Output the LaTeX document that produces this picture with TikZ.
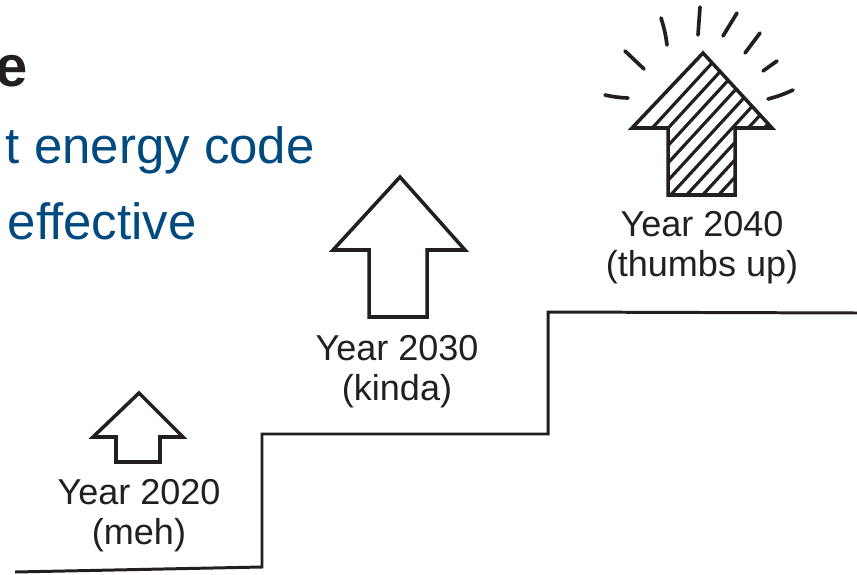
\documentclass[tikz,border=0pt]{standalone}
\usepackage{fontspec}
\setmainfont{Liberation Sans}
\definecolor{codeblue}{RGB}{0,74,128}
\definecolor{ink}{RGB}{35,31,32}
\tikzset{
  stair/.style={draw=ink, line width=1.7pt, line join=miter},
  uparrow/.style={draw=ink, line width=2pt, line join=miter, fill=white},
  hatchline/.style={draw=ink, line width=1.8pt},
  ray/.style={draw=ink, line width=2.1pt, line cap=round},
  yearlabel/.style={text=ink, font=\fontsize{20.5}{22.5}\selectfont, align=center, inner sep=0pt, anchor=base},
  headline/.style={text=codeblue, font=\fontsize{29}{32}\selectfont, inner sep=0pt, anchor=base east}
}
\begin{document}
\begin{tikzpicture}[x=0.02cm, y=-0.02cm]
  \useasboundingbox (0,0) rectangle (857,574);

  % title fragments, cut at the left edge
  \node[text=ink, font=\fontsize{33}{36}\bfseries, inner sep=0pt, anchor=base east] at (28,87) (title) {e};
  \node[headline] at (315,163) (line1) {t energy code};
  \node[headline] at (197,239) (line2) {effective};

  % the stairs
  \draw[stair] (15,572) -- (262,567) -- (262,434) -- (548,434) -- (548,312) -- (857,313);

  % arrows
  \draw[uparrow] (139,393) -- (183,437) -- (160,437) -- (160,462) -- (116,462) -- (116,437) -- (93,437) -- cycle;
  \draw[uparrow] (400,177) -- (465,250) -- (427,250) -- (427,317) -- (369,317) -- (369,250) -- (333,250) -- cycle;
  \begin{scope}
    \clip (703,53) -- (772,128) -- (735,128) -- (735,195) -- (668,195) -- (668,128) -- (632,128) -- cycle;
    \foreach \c in {770,786,...,930}
      \draw[hatchline] (\c-230,250) -- (\c,0);
  \end{scope}
  \draw[uparrow, fill=none] (703,53) -- (772,128) -- (735,128) -- (735,195) -- (668,195) -- (668,128) -- (632,128) -- cycle;

  % sparkle
  \draw[ray] (605,95) to[bend right=5] (628,98);
  \draw[ray] (625,51) -- (644,69);
  \draw[ray] (661,18) to[bend left=5] (667,45);
  \draw[ray] (700,7) -- (698,35);
  \draw[ray] (737,13) -- (723,36);
  \draw[ray] (760,33) -- (745,53);
  \draw[ray] (777,61) -- (763,71);
  \draw[ray] (793,90) to[bend left=5] (768,99);

  % labels
  \node[yearlabel] at (139,544) (y2020) {Year 2020\\(meh)};
  \node[yearlabel] at (397,400) (y2030) {Year 2030\\(kinda)};
  \node[yearlabel] at (702,276) (y2040) {Year 2040\\(thumbs up)};
\end{tikzpicture}
\end{document}
